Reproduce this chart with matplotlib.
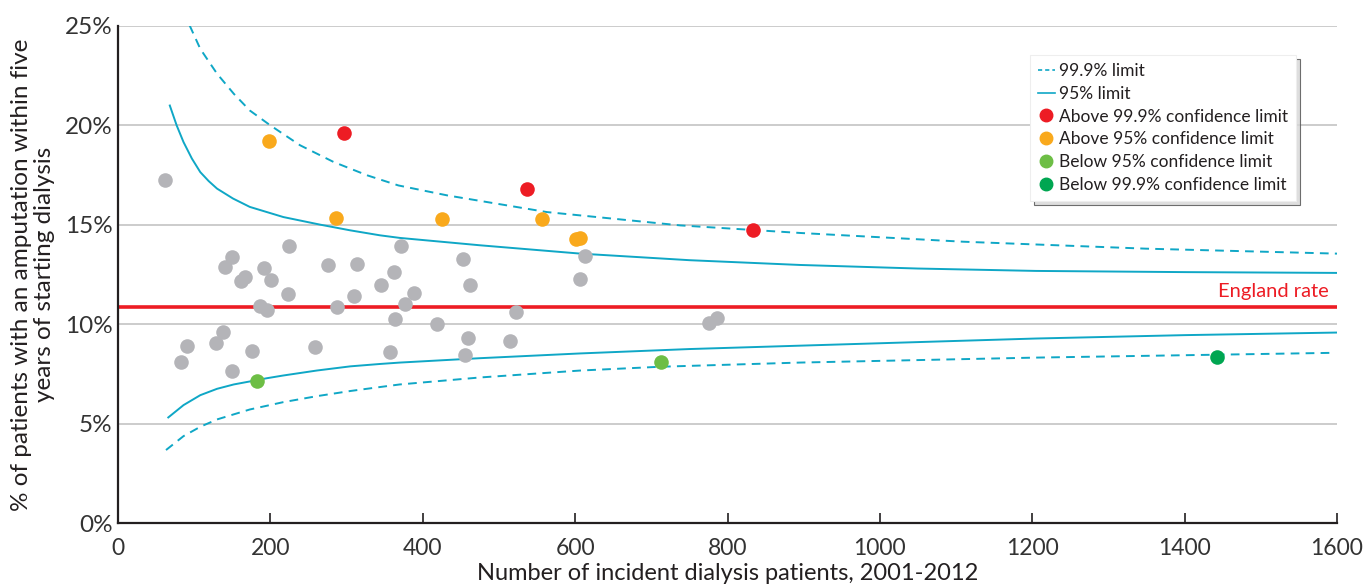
import matplotlib
matplotlib.use("Agg")
import matplotlib.pyplot as plt
from matplotlib.lines import Line2D

plt.rcParams['font.family'] = ['Lato', 'DejaVu Sans']

# ---- data ----
grey_x = [62, 140, 150, 161, 167, 191, 201, 224, 223, 187, 196, 287, 275, 314, 371, 453,
          362, 345, 310, 388, 377, 462, 363, 419, 459, 456, 357, 258, 176, 138, 129, 90,
          83, 149, 522, 514, 776, 786, 613, 606]
grey_y = [17.24, 12.90, 13.40, 12.16, 12.38, 12.81, 12.20, 13.94, 11.54, 10.92, 10.72, 10.85,
          13.0, 13.02, 13.92, 13.27, 12.63, 11.99, 11.42, 11.57, 11.0, 11.98, 10.25, 10.02,
          9.31, 8.43, 8.58, 8.83, 8.63, 9.63, 9.05, 8.91, 8.09, 7.64, 10.59, 9.16, 10.05,
          10.30, 13.43, 12.26]

above999_x = [296, 537, 833]
above999_y = [19.63, 16.78, 14.74]
above95_x = [198, 286, 425, 556, 601, 607]
above95_y = [19.23, 15.33, 15.31, 15.28, 14.29, 14.34]
below95_x = [182, 713]
below95_y = [7.14, 8.09]
below999_x = [1443]
below999_y = [8.34]

england_rate = 10.85

upper95_x = [68, 77, 86, 97, 108, 119, 130, 151, 173, 217, 265, 305, 344, 370, 475, 607,
             750, 895, 1050, 1205, 1400, 1600]
upper95_y = [21.0, 20.0, 19.16, 18.33, 17.65, 17.2, 16.82, 16.32, 15.9, 15.39, 15.01, 14.72,
             14.47, 14.34, 13.97, 13.55, 13.22, 12.98, 12.8, 12.68, 12.62, 12.58]
lower95_x = [66, 86, 108, 130, 152, 173, 195, 217, 261, 305, 344, 370, 475, 607, 750, 895,
             1050, 1205, 1400, 1600]
lower95_y = [5.31, 5.93, 6.43, 6.75, 6.97, 7.12, 7.28, 7.42, 7.67, 7.88, 8.0, 8.07, 8.29,
             8.53, 8.75, 8.92, 9.1, 9.28, 9.45, 9.58]
upper999_x = [94, 108, 130, 152, 173, 200, 239, 283, 327, 368, 432, 563, 738, 895, 1109,
              1349, 1600]
upper999_y = [25.03, 23.85, 22.6, 21.59, 20.75, 20.0, 19.0, 18.16, 17.49, 16.98, 16.48, 15.64,
              14.97, 14.59, 14.15, 13.8, 13.55]
lower999_x = [63, 86, 108, 130, 173, 217, 261, 305, 344, 370, 475, 607, 712, 895, 1205, 1595]
lower999_y = [3.67, 4.37, 4.84, 5.21, 5.71, 6.08, 6.38, 6.64, 6.84, 6.97, 7.32, 7.67, 7.86,
              8.07, 8.32, 8.56]

x_ticks = [0, 200, 400, 600, 800, 1000, 1200, 1400, 1600]
y_ticks = [0, 5, 10, 15, 20, 25]
y_tick_labels = ['0%', '5%', '10%', '15%', '20%', '25%']

# ---- styles ----
CYAN = '#0fa7c6'
GREY = '#b4b4b8'
RED = '#ed1c24'
ORANGE = '#f9a91c'
LGREEN = '#6dbe45'
DGREEN = '#00a651'
TEXT = '#231f20'

fig = plt.figure(figsize=(13.68, 5.88), dpi=100)
ax = fig.add_axes([118 / 1368, 65 / 588, 1219 / 1368, 497 / 588])

ax.set_xlim(0, 1600)
ax.set_ylim(0, 25)

for yv in y_ticks[1:]:
    ax.axhline(yv, color='#c4c4c4', lw=1.2, zorder=0)

ax.axhline(england_rate, color=RED, lw=2.6, zorder=2)
ax.text(0.9935, england_rate + 0.35, 'England rate', color=RED, fontsize=14.5,
        ha='right', va='bottom', transform=ax.get_yaxis_transform())

dash = (0, (4.5, 3.2))
ax.plot(upper999_x, upper999_y, color=CYAN, lw=1.4, linestyle=dash, zorder=3)
ax.plot(lower999_x, lower999_y, color=CYAN, lw=1.4, linestyle=dash, zorder=3)
ax.plot(upper95_x, upper95_y, color=CYAN, lw=1.4, zorder=3)
ax.plot(lower95_x, lower95_y, color=CYAN, lw=1.4, zorder=3)

ms = 110
ax.scatter(grey_x, grey_y, s=ms, color=GREY, lw=0, zorder=4)
ax.scatter(above999_x, above999_y, s=ms, color=RED, lw=0, zorder=5)
ax.scatter(above95_x, above95_y, s=ms, color=ORANGE, lw=0, zorder=5)
ax.scatter(below95_x, below95_y, s=ms, color=LGREEN, lw=0, zorder=5)
ax.scatter(below999_x, below999_y, s=ms, color=DGREEN, lw=0, zorder=5)

for s in ['top', 'right']:
    ax.spines[s].set_visible(False)
for s in ['left', 'bottom']:
    ax.spines[s].set_color(TEXT)
    ax.spines[s].set_linewidth(1.6)

ax.set_xticks(x_ticks)
ax.set_yticks(y_ticks)
ax.set_yticklabels(y_tick_labels)
ax.tick_params(axis='x', direction='in', length=7, width=1.2, colors=TEXT,
               labelsize=16.5, pad=11)
ax.tick_params(axis='y', length=0, colors=TEXT, labelsize=17.5, pad=4)
for lab in ax.get_xticklabels() + ax.get_yticklabels():
    lab.set_color('#333333')

ax.set_xlabel('Number of incident dialysis patients, 2001-2012', fontsize=17,
              color=TEXT, labelpad=3)
ax.set_ylabel('% of patients with an amputation within five\nyears of starting dialysis',
              fontsize=17.5, color=TEXT, labelpad=7, linespacing=1.12)

handles = [
    Line2D([], [], color=CYAN, lw=1.2, linestyle=(0, (2.5, 1.8))),
    Line2D([], [], color=CYAN, lw=1.2),
    Line2D([], [], marker='o', color=RED, lw=0, markersize=9),
    Line2D([], [], marker='o', color=ORANGE, lw=0, markersize=9),
    Line2D([], [], marker='o', color=LGREEN, lw=0, markersize=9),
    Line2D([], [], marker='o', color=DGREEN, lw=0, markersize=9),
]
labels = ['99.9% limit', '95% limit', 'Above 99.9% confidence limit',
          'Above 95% confidence limit', 'Below 95% confidence limit',
          'Below 99.9% confidence limit']
leg = ax.legend(handles, labels, loc='upper left', bbox_to_anchor=(0.748, 0.942),
                fontsize=12.5, frameon=True, fancybox=False,
                shadow={'ox': 3, 'oy': -3, 'facecolor': '#d6d6d6', 'alpha': 0.8},
                handlelength=1.0, handletextpad=0.25, labelspacing=0.4,
                borderpad=0.45, borderaxespad=0)
leg.get_frame().set_edgecolor('#eeeeee')
leg.get_frame().set_linewidth(0.8)
for t in leg.get_texts():
    t.set_color(TEXT)

fig.savefig('out.png', dpi=100)
